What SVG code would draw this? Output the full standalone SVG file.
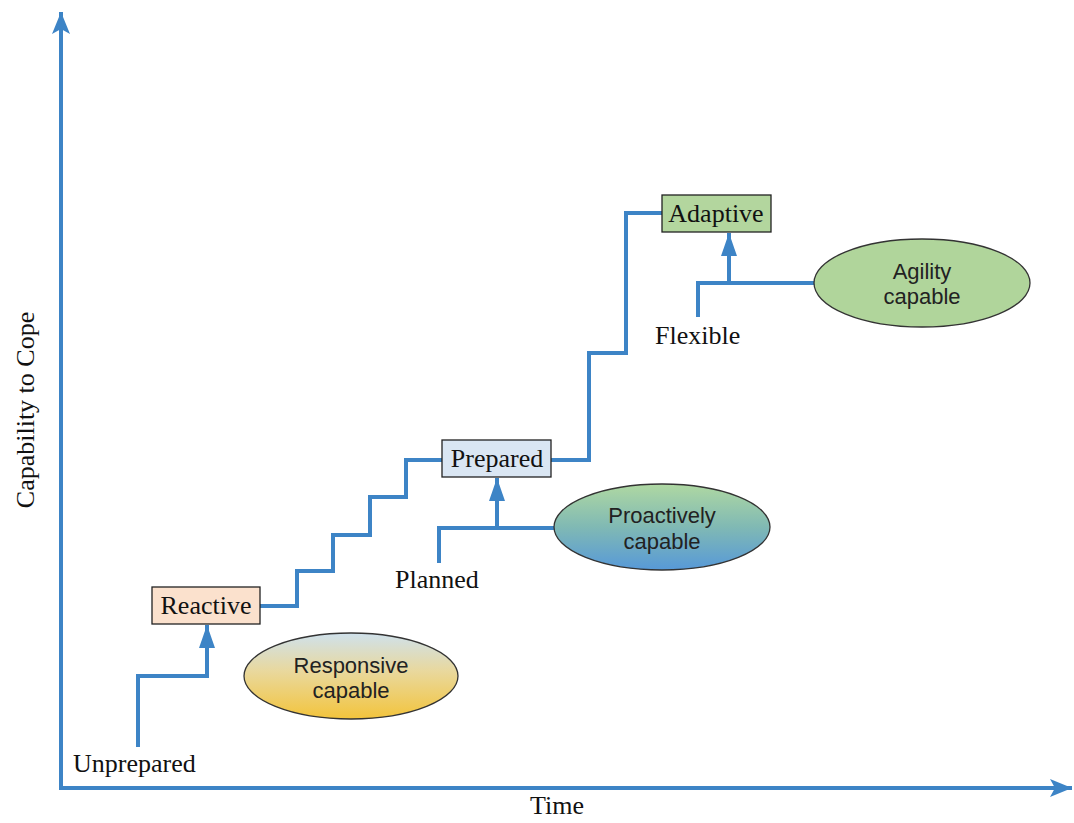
<svg xmlns="http://www.w3.org/2000/svg" width="1074" height="823" viewBox="0 0 1074 823">
  <style>
    .axis { fill: none; stroke: #3d84c6; stroke-width: 4; }
    .step { fill: none; stroke: #3d84c6; stroke-width: 4; stroke-linejoin: miter; }
    .stage { stroke: #222; stroke-width: 1.3; }
    .oval { stroke: #333; stroke-width: 1.3; }
    .lbl { font-family: "Liberation Serif", "Times New Roman", serif; font-size: 26px; fill: #111; }
    .cap { font-family: "Liberation Sans", Arial, sans-serif; font-size: 22px; fill: #222; text-anchor: middle; }
  </style>
  <defs>
    <marker id="axisHead" markerUnits="userSpaceOnUse" markerWidth="24" markerHeight="20" viewBox="0 0 24 20" refX="22" refY="10" orient="auto">
      <path d="M0,1 L22,10 L0,19 L5,10 Z" fill="#3d84c6"/>
    </marker>
    <marker id="lift" markerUnits="userSpaceOnUse" markerWidth="24" markerHeight="18" viewBox="0 0 24 18" refX="23" refY="9" orient="auto">
      <path d="M0,1 L23,9 L0,17 Z" fill="#3d84c6"/>
    </marker>
    <linearGradient id="gResponsive" x1="0" y1="0" x2="0" y2="1">
      <stop offset="0" stop-color="#cfe1ec"/>
      <stop offset="0.45" stop-color="#e9d89c"/>
      <stop offset="1" stop-color="#f3c43c"/>
    </linearGradient>
    <linearGradient id="gProactive" x1="0" y1="0" x2="0" y2="1">
      <stop offset="0" stop-color="#afd8a2"/>
      <stop offset="0.5" stop-color="#80b9b4"/>
      <stop offset="1" stop-color="#5799d8"/>
    </linearGradient>
  </defs>

  <rect width="1074" height="823" fill="#ffffff"/>

  <!-- axes -->
  <g id="axes">
    <path class="axis" d="M61,790 V12" marker-end="url(#axisHead)"/>
    <path class="axis" d="M59,788 H1072" marker-end="url(#axisHead)"/>
    <text class="lbl" x="557" y="814" text-anchor="middle">Time</text>
    <text class="lbl" text-anchor="middle" transform="translate(34,410) rotate(-90)">Capability to Cope</text>
  </g>

  <!-- connectors: staircase and capability links -->
  <g id="connectors">
    <path class="step" d="M260,606 H297 V571 H333 V535 H370 V497 H406 V460 H442"/>
    <path class="step" d="M551,460 H589 V353 H626 V213 H662"/>
    <path class="step" d="M138,747 V676 H207 V625" marker-end="url(#lift)"/>
    <path class="step" d="M439,563 V528 H555"/>
    <path class="step" d="M497,528 V478" marker-end="url(#lift)"/>
    <path class="step" d="M698,317 V283 H815"/>
    <path class="step" d="M729,283 V233" marker-end="url(#lift)"/>
  </g>

  <!-- stage labels -->
  <g id="unprepared">
    <text class="lbl" x="73" y="772">Unprepared</text>
  </g>
  <g id="planned">
    <text class="lbl" x="395" y="588">Planned</text>
  </g>
  <g id="flexible">
    <text class="lbl" x="655" y="344">Flexible</text>
  </g>

  <!-- stage boxes -->
  <g id="reactive">
    <rect class="stage" x="152" y="587" width="108" height="37" fill="#fbe1cd"/>
    <text class="lbl" x="206" y="614" text-anchor="middle">Reactive</text>
  </g>
  <g id="prepared">
    <rect class="stage" x="442" y="440" width="109" height="37" fill="#dae6f3"/>
    <text class="lbl" x="497" y="467" text-anchor="middle">Prepared</text>
  </g>
  <g id="adaptive">
    <rect class="stage" x="662" y="195" width="109" height="37" fill="#b3d69e"/>
    <text class="lbl" x="716" y="222" text-anchor="middle">Adaptive</text>
  </g>

  <!-- capability ovals -->
  <g id="responsive-capable">
    <ellipse class="oval" cx="351" cy="676" rx="107" ry="43" fill="url(#gResponsive)"/>
    <text class="cap" x="351" y="673">Responsive</text>
    <text class="cap" x="351" y="698">capable</text>
  </g>
  <g id="proactively-capable">
    <ellipse class="oval" cx="662" cy="527" rx="108" ry="43" fill="url(#gProactive)"/>
    <text class="cap" x="662" y="523">Proactively</text>
    <text class="cap" x="662" y="549">capable</text>
  </g>
  <g id="agility-capable">
    <ellipse class="oval" cx="922" cy="283" rx="108" ry="44" fill="#b0d59b"/>
    <text class="cap" x="922" y="279">Agility</text>
    <text class="cap" x="922" y="304">capable</text>
  </g>
</svg>
